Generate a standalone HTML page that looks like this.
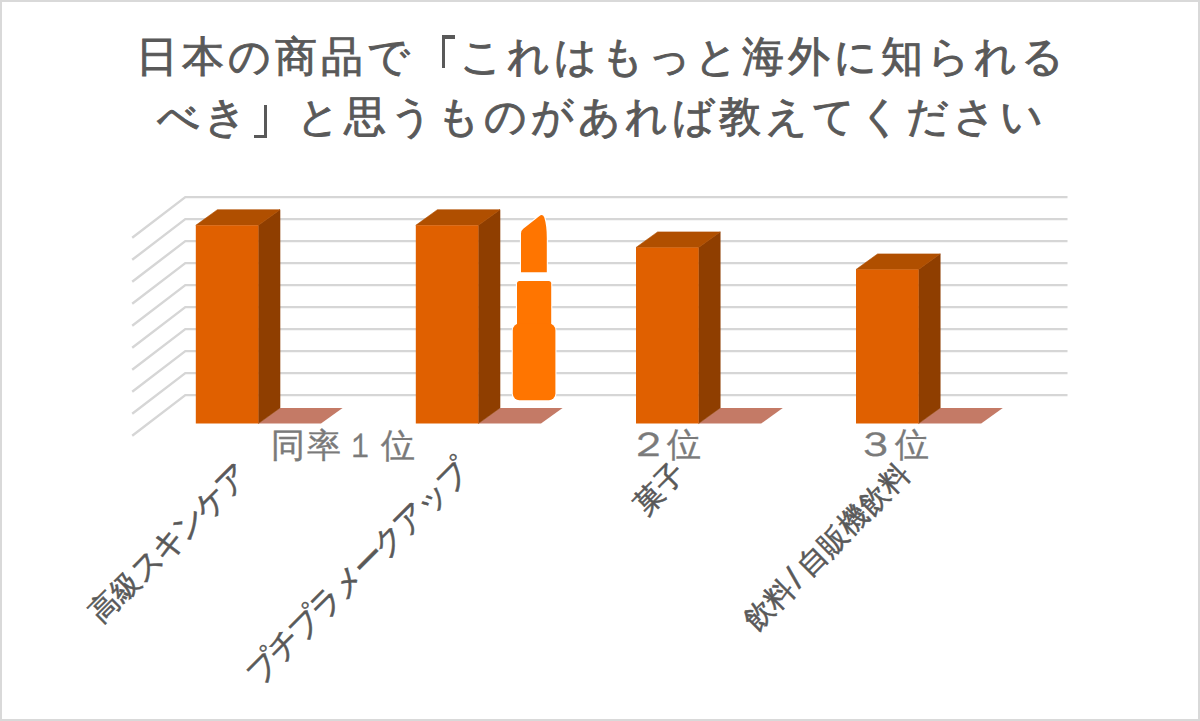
<!DOCTYPE html>
<html lang="ja">
<head>
<meta charset="utf-8">
<style>
html,body{margin:0;padding:0;background:#fff;}
body{width:1200px;height:721px;position:relative;overflow:hidden;font-family:"Liberation Sans",sans-serif;}
#frame{position:absolute;left:0;top:0;width:1196px;height:717px;border:2px solid #d9d9d9;}
.t{position:absolute;white-space:nowrap;line-height:1;}
.title{color:#595959;font-size:42px;letter-spacing:4px;text-indent:4px;-webkit-text-stroke:0.9px #595959;left:0;width:1200px;text-align:center;}
.rank{color:#7a7a7a;font-size:34px;-webkit-text-stroke:0.4px #7a7a7a;}
.kk{font-size:32px;letter-spacing:-3px;vertical-align:-1px;}
.tr{color:transparent;-webkit-text-stroke-color:transparent;}
.brk{position:absolute;background:#595959;}
.cat{color:#595959;font-size:29px;-webkit-text-stroke:0.55px #595959;transform-origin:100% 0;transform:rotate(-45deg);}
svg{position:absolute;left:0;top:0;}
</style>
</head>
<body>
<div id="frame"></div>
<svg width="1200" height="721" viewBox="0 0 1200 721">
  <g stroke="#d6d6d6" stroke-width="2.4" fill="none">
    <path d="M132.2 237.8L185.3 197.1H1067.5"/>
    <path d="M132.2 259.8L185.3 219.1H1067.5"/>
    <path d="M132.2 281.8L185.3 241.1H1067.5"/>
    <path d="M132.2 303.8L185.3 263.1H1067.5"/>
    <path d="M132.2 325.8L185.3 285.1H1067.5"/>
    <path d="M132.2 347.8L185.3 307.1H1067.5"/>
    <path d="M132.2 369.8L185.3 329.1H1067.5"/>
    <path d="M132.2 391.8L185.3 351.1H1067.5"/>
    <path d="M132.2 413.8L185.3 373.1H1067.5"/>
    <path d="M132.2 435.8L185.3 395.1H1067.5"/>
  </g>
  <g id="bars">
<path fill="#c47a66" d="M258.4 423.5H321.0L342.6 407.9H280.0Z"/>
<path fill="#8f3e00" stroke="#8f3e00" stroke-width="0.6" stroke-linejoin="round" d="M258.4 225.3L280.0 209.70000000000002V407.9L258.4 423.5Z"/>
<path fill="#b04f00" stroke="#b04f00" stroke-width="0.6" stroke-linejoin="round" d="M195.8 225.3L217.4 209.70000000000002H280.0L258.4 225.3Z"/>
<rect fill="#e06000" x="195.8" y="225.3" width="62.6" height="198.2"/>
<path fill="#c47a66" d="M478.4 423.5H541.0L562.6 407.9H500.0Z"/>
<path fill="#8f3e00" stroke="#8f3e00" stroke-width="0.6" stroke-linejoin="round" d="M478.4 225.3L500.0 209.70000000000002V407.9L478.4 423.5Z"/>
<path fill="#b04f00" stroke="#b04f00" stroke-width="0.6" stroke-linejoin="round" d="M415.8 225.3L437.4 209.70000000000002H500.0L478.4 225.3Z"/>
<rect fill="#e06000" x="415.8" y="225.3" width="62.6" height="198.2"/>
<path fill="#c47a66" d="M698.6 423.5H761.2L782.8 407.9H720.2Z"/>
<path fill="#8f3e00" stroke="#8f3e00" stroke-width="0.6" stroke-linejoin="round" d="M698.6 247.5L720.2 231.9V407.9L698.6 423.5Z"/>
<path fill="#b04f00" stroke="#b04f00" stroke-width="0.6" stroke-linejoin="round" d="M636.0 247.5L657.6 231.9H720.2L698.6 247.5Z"/>
<rect fill="#e06000" x="636" y="247.5" width="62.6" height="176.0"/>
<path fill="#c47a66" d="M918.6 423.5H981.2L1002.8 407.9H940.2Z"/>
<path fill="#8f3e00" stroke="#8f3e00" stroke-width="0.6" stroke-linejoin="round" d="M918.6 269.5L940.2 253.9V407.9L918.6 423.5Z"/>
<path fill="#b04f00" stroke="#b04f00" stroke-width="0.6" stroke-linejoin="round" d="M856.0 269.5L877.6 253.9H940.2L918.6 269.5Z"/>
<rect fill="#e06000" x="856" y="269.5" width="62.6" height="154.0"/>
  </g>
  <g fill="#fff" stroke="#fff" stroke-width="2.2">
    <path d="M521 272.2V233.5Q521 230.6 523.3 228.8L539.2 216.2Q543 213.4 544.4 217.8Q546.8 226 546.8 238V272.2Z"/>
    <rect x="517" y="281" width="34.2" height="46" rx="2.5"/>
    <rect x="512.8" y="323.6" width="42.6" height="76.6" rx="6.5"/>
  </g>
  <g fill="#ff7500">
    <path d="M521 272.2V233.5Q521 230.6 523.3 228.8L539.2 216.2Q543 213.4 544.4 217.8Q546.8 226 546.8 238V272.2Z"/>
    <rect x="517" y="281" width="34.2" height="46" rx="2.5"/>
    <rect x="512.8" y="323.6" width="42.6" height="76.6" rx="6.5"/>
  </g>
</svg>
<div class="t title" style="top:36px">日本の商品で<span class="tr">「</span>これはもっと海外に知られる</div>
<div class="t title" style="top:96px">べき<span class="tr">」</span>と思うものがあれば教えてください</div>
<div class="brk" style="left:441.5px;top:35.4px;width:3.5px;height:32.4px"></div>
<div class="brk" style="left:441.5px;top:35.4px;width:13.5px;height:3.3px"></div>
<div class="brk" style="left:263.6px;top:105.4px;width:3.4px;height:32.4px"></div>
<div class="brk" style="left:253.5px;top:134.5px;width:13.5px;height:3.3px"></div>
<div class="t rank" style="left:271px;top:428px">同</div>
<div class="t rank" style="left:307px;top:428px">率</div>
<div class="t rank" style="left:342.5px;top:428px;transform:scaleX(0.85)">１</div>
<div class="t rank" style="left:381px;top:428px">位</div>
<div class="t rank" style="left:630.8px;top:426.5px;transform:scaleX(1.2)">２</div>
<div class="t rank" style="left:667px;top:426.5px">位</div>
<div class="t rank" style="left:857.8px;top:426.5px;transform:scaleX(1.2)">３</div>
<div class="t rank" style="left:895px;top:426.5px">位</div>
<div class="t cat" style="right:970.5px;top:459px">高級<span class="kk">スキンケア</span></div>
<div class="t cat" style="right:749px;top:455px"><span class="kk">プチプラメークアップ</span></div>
<div class="t cat" style="right:530px;top:458px">菓子</div>
<div class="t cat" style="right:308px;top:456px">飲料<span style="margin:0 6px 0 3px;font-size:33px">/</span>自販機飲料</div>
</body>
</html>
